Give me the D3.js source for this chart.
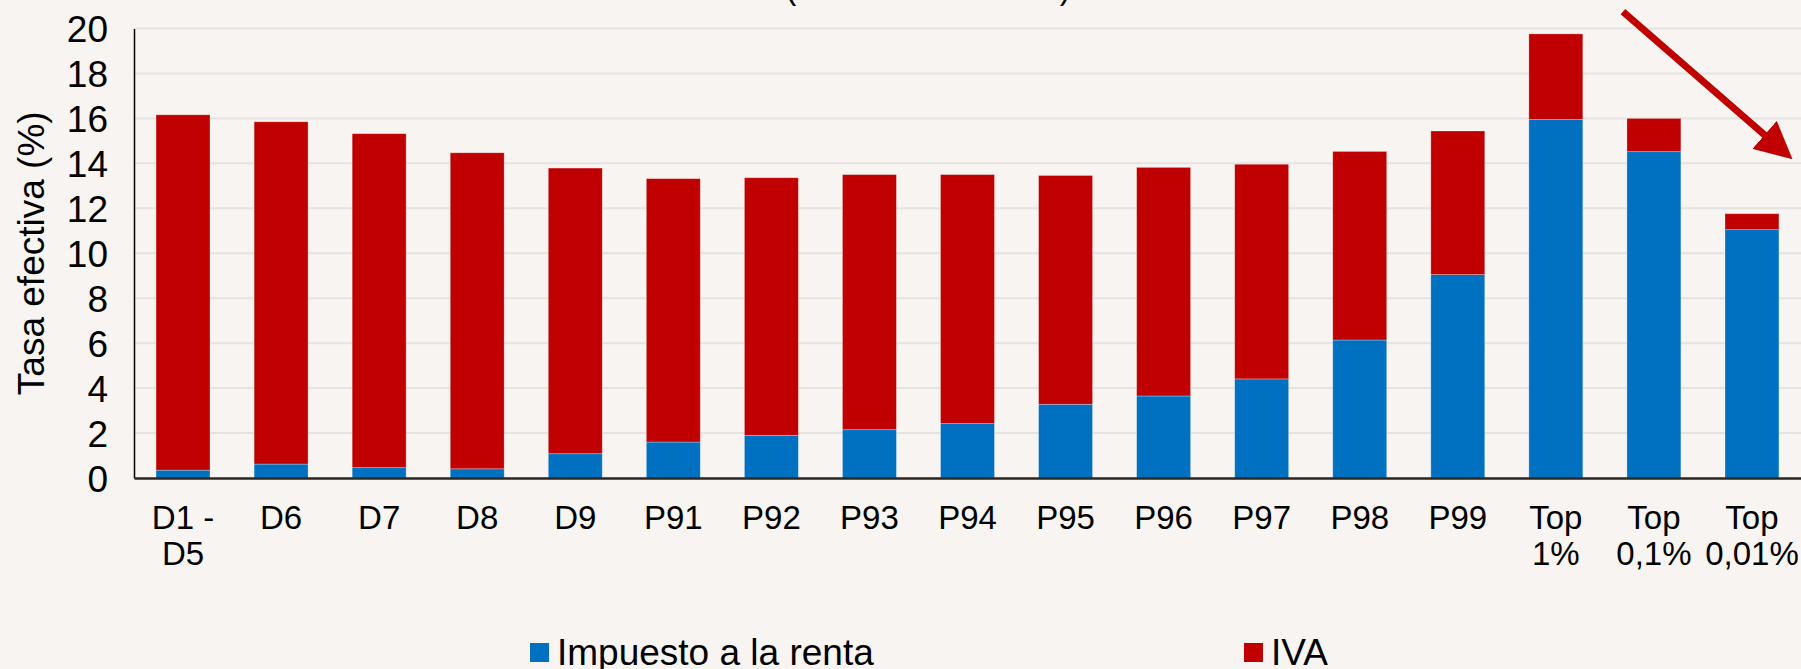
<!DOCTYPE html>
<html>
<head>
<meta charset="utf-8">
<script src="https://cdn.jsdelivr.net/npm/d3@7"></script>
<style>
  html, body { margin: 0; padding: 0; background: #f7f4f1; }
  svg { display: block; font-family: "Liberation Sans", Arial, sans-serif; }
  .grid line { stroke: #e5e3e1; stroke-width: 2; }
</style>
</head>
<body>
<svg class="chart"></svg>
<script>
// categories (two-line labels split by "|")
var categories = ["D1 -|D5", "D6", "D7", "D8", "D9", "P91", "P92", "P93", "P94", "P95",
  "P96", "P97", "P98", "P99", "Top|1%", "Top|0,1%", "Top|0,01%"];
// Impuesto a la renta (%)
var renta = [0.35, 0.62, 0.46, 0.41, 1.08, 1.6, 1.9, 2.15, 2.42, 3.28, 3.65, 4.41, 6.14, 9.05, 15.95, 14.52, 11.05];
// total rate, renta + IVA (%)
var total = [16.16, 15.85, 15.32, 14.47, 13.79, 13.32, 13.36, 13.5, 13.5, 13.46, 13.82, 13.96, 14.53, 15.44, 19.76, 16.0, 11.76];
var iva = total.map(function (t, i) { return t - renta[i]; });
var yTicks = [0, 2, 4, 6, 8, 10, 12, 14, 16, 18, 20];

var W = 1801, H = 669;
var margin = {top: 28.5, right: 0, bottom: 191, left: 134};
var width = W - margin.left - margin.right,
    height = H - margin.top - margin.bottom;

var blue = "#0070c0", red = "#c00000";

var svg = d3.select(".chart").attr("width", W).attr("height", H);

svg.append("rect").attr("width", W).attr("height", H).attr("fill", "#f7f4f1");

var chart = svg.append("g")
  .attr("transform", "translate(" + margin.left + "," + margin.top + ")");

var x = d3.scaleBand()
  .domain(categories)
  .range([0, width])
  .paddingInner(0.45)
  .paddingOuter(0.225);

var y = d3.scaleLinear()
  .domain([0, 20])
  .range([height, 0]);

// gridlines
chart.append("g")
  .attr("class", "grid")
  .selectAll("line")
  .data(yTicks.slice(1))
  .enter().append("line")
  .attr("x1", 0).attr("x2", width)
  .attr("y1", function (d) { return y(d); })
  .attr("y2", function (d) { return y(d); });

// stacked data
var rows = categories.map(function (c, i) {
  return {cat: c, renta: renta[i], iva: iva[i]};
});
var stack = d3.stack().keys(["renta", "iva"])(rows);
var colors = {renta: blue, iva: red};

chart.selectAll(".layer")
  .data(stack)
  .enter().append("g")
  .attr("class", "layer")
  .attr("fill", function (d) { return colors[d.key]; })
  .selectAll("rect")
  .data(function (d) { return d; })
  .enter().append("rect")
  .attr("x", function (d) { return x(d.data.cat); })
  .attr("width", x.bandwidth())
  .attr("y", function (d) { return y(d[1]); })
  .attr("height", function (d) { return y(d[0]) - y(d[1]); })
  .attr("stroke", "#ffffff")
  .attr("stroke-opacity", 0.35)
  .attr("stroke-width", 0.8);

// y axis
var yAxis = d3.axisLeft(y).tickValues(yTicks).tickSize(0).tickPadding(26);
var gy = chart.append("g").attr("class", "y axis").call(yAxis);
gy.select(".domain").attr("stroke", "#000").attr("stroke-width", 1.5);
gy.selectAll("text")
  .attr("fill", "#000")
  .style("font-size", "37px")
  .attr("dy", "0.36em");

// x axis
var xAxis = d3.axisBottom(x).tickSize(0).tickFormat("");
var gx = chart.append("g")
  .attr("class", "x axis")
  .attr("transform", "translate(0," + height + ")")
  .call(xAxis);
gx.select(".domain").attr("stroke", "#2b2622").attr("stroke-width", 2.5);

gx.selectAll(".tick").each(function (d) {
  var parts = d.split("|");
  var t = d3.select(this).append("text")
    .attr("fill", "#000")
    .attr("text-anchor", "middle")
    .style("font-size", "33px");
  parts.forEach(function (p, i) {
    t.append("tspan").attr("x", 0).attr("y", 51 + i * 36).text(p);
  });
});

// y axis title
chart.append("text")
  .attr("transform", "translate(" + (-90) + "," + (height / 2) + ") rotate(-90)")
  .attr("text-anchor", "middle")
  .style("font-size", "37px")
  .attr("fill", "#000")
  .text("Tasa efectiva (%)");

// title, cut off at the top of the picture
svg.append("text")
  .attr("x", 785)
  .attr("y", -2)
  .attr("textLength", 286)
  .attr("lengthAdjust", "spacingAndGlyphs")
  .style("font-size", "36px")
  .attr("fill", "#000")
  .text("(tasa efectiva total)");

// arrow annotation
svg.append("defs").append("marker")
  .attr("id", "head")
  .attr("viewBox", "0 0 10 10")
  .attr("refX", 8).attr("refY", 5)
  .attr("markerWidth", 5.3).attr("markerHeight", 5.3)
  .attr("orient", "auto")
  .append("path")
  .attr("d", "M0,0 L10,5 L0,10 Z")
  .attr("fill", red);

var last = categories[categories.length - 1], prev = categories[categories.length - 2];
chart.append("line")
  .attr("x1", x(prev) - 4)
  .attr("y1", y(20.75))
  .attr("x2", x(last) + x.bandwidth() + 8)
  .attr("y2", y(14.4))
  .attr("stroke", red)
  .attr("stroke-width", 7)
  .attr("marker-end", "url(#head)");

// legend
var legend = svg.append("g").attr("class", "legend");
var items = [{name: "Impuesto a la renta", color: blue, x: 530}, {name: "IVA", color: red, x: 1244}];
var li = legend.selectAll("g").data(items).enter().append("g")
  .attr("transform", function (d) { return "translate(" + d.x + ",0)"; });
li.append("rect").attr("x", 0).attr("y", 643).attr("width", 19).attr("height", 19)
  .attr("fill", function (d) { return d.color; });
li.append("text").attr("x", 27).attr("y", 665)
  .style("font-size", "37px").attr("fill", "#000")
  .text(function (d) { return d.name; });
</script>
</body>
</html>
